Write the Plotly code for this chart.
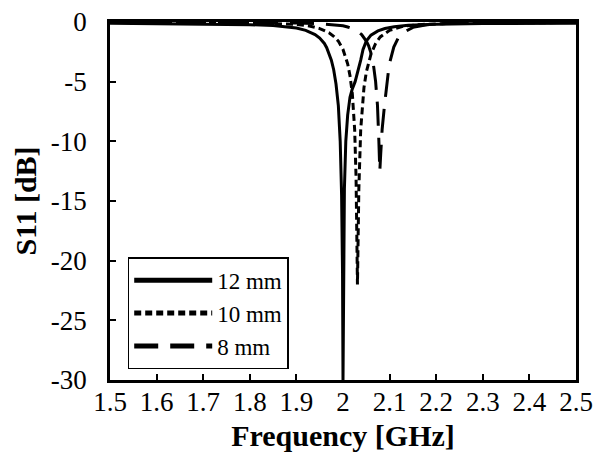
import plotly.graph_objects as go

# ---- data ----
freq_12 = [1.50, 1.60, 1.70, 1.75, 1.80, 1.85, 1.88, 1.90, 1.92, 1.94, 1.95, 1.96, 1.965, 1.97,
           1.975, 1.98, 1.985, 1.99, 1.994, 1.997, 1.999, 2.000, 2.001, 2.003, 2.006, 2.010,
           2.015, 2.020, 2.026, 2.032, 2.038, 2.043, 2.05, 2.06, 2.075, 2.09, 2.11, 2.14, 2.2,
           2.3, 2.4, 2.5]
s11_12 = [-0.10, -0.12, -0.15, -0.18, -0.22, -0.30, -0.40, -0.50, -0.70, -1.05, -1.35, -1.80,
          -2.15, -2.6, -3.2, -4.0, -5.2, -7.0, -10.0, -14.5, -21.0, -30.0, -22.0, -14.0, -10.0,
          -7.8, -6.3, -5.6, -5.0, -4.2, -3.2, -2.3, -1.6, -1.1, -0.75, -0.55, -0.40, -0.28,
          -0.18, -0.13, -0.11, -0.10]

freq_10 = [1.50, 1.70, 1.80, 1.90, 1.93, 1.95, 1.97, 1.98, 1.99, 2.00, 2.01, 2.015, 2.02, 2.025,
           2.028, 2.031, 2.034, 2.038, 2.045, 2.05, 2.06, 2.07, 2.08, 2.10, 2.13, 2.17, 2.25, 2.5]
s11_10 = [-0.04, -0.06, -0.10, -0.20, -0.35, -0.55, -0.90, -1.20, -1.60, -2.30, -3.50, -4.50,
          -6.0, -9.0, -13.0, -22.0, -14.0, -9.0, -5.5, -4.2, -2.7, -1.8, -1.25, -0.70, -0.35,
          -0.20, -0.10, -0.04]

freq_8 = [1.50, 1.70, 1.80, 1.90, 1.95, 1.98, 2.00, 2.01, 2.02, 2.03, 2.04, 2.05, 2.055, 2.06,
          2.065, 2.07, 2.074, 2.077, 2.079, 2.081, 2.084, 2.089, 2.094, 2.099, 2.109, 2.119,
          2.129, 2.15, 2.18, 2.23, 2.35, 2.5]
s11_8 = [-0.02, -0.03, -0.05, -0.08, -0.15, -0.22, -0.32, -0.42, -0.55, -0.75, -1.05, -1.6,
         -2.0, -2.6, -3.5, -5.0, -7.0, -10.0, -12.5, -11.0, -9.0, -7.0, -5.0, -3.6, -2.1, -1.3,
         -0.9, -0.45, -0.23, -0.10, -0.04, -0.02]

series_names = ["12 mm", "10 mm", "8 mm"]
x_ticks = [1.5, 1.6, 1.7, 1.8, 1.9, 2.0, 2.1, 2.2, 2.3, 2.4, 2.5]
x_ticklabels = ["1.5", "1.6", "1.7", "1.8", "1.9", "2", "2.1", "2.2", "2.3", "2.4", "2.5"]
y_ticks = [0, -5, -10, -15, -20, -25, -30]
y_ticklabels = ["0", "-5", "-10", "-15", "-20", "-25", "-30"]

FONT = "Liberation Serif"
TICK_SIZE = 27
TITLE_SIZE = 30

fig = go.Figure()
fig.add_trace(go.Scatter(x=freq_12, y=s11_12, mode="lines", name=series_names[0],
                         line=dict(color="black", width=3, dash="solid")))
fig.add_trace(go.Scatter(x=freq_10, y=s11_10, mode="lines", name=series_names[1],
                         line=dict(color="black", width=3, dash="7px,4px")))
fig.add_trace(go.Scatter(x=freq_8, y=s11_8, mode="lines", name=series_names[2],
                         line=dict(color="black", width=3, dash="24px,12px")))

fig.update_layout(
    width=594, height=457,
    margin=dict(l=110, r=18, t=22, b=77, autoexpand=False),
    paper_bgcolor="white", plot_bgcolor="white",
    font=dict(family=FONT, size=TICK_SIZE, color="black"),
    showlegend=True,
    legend=dict(x=0.038, y=0.03, xanchor="left", yanchor="bottom",
                bgcolor="white", bordercolor="black", borderwidth=1.5,
                font=dict(family=FONT, size=23, color="black"),
                itemwidth=78,
                tracegroupgap=0, itemsizing="constant"),
    xaxis=dict(range=[1.5, 2.5], tickmode="array", tickvals=x_ticks, ticktext=x_ticklabels,
               automargin=False,
               showline=True, linecolor="black", linewidth=2.5, mirror=True,
               ticks="inside", ticklen=6, tickwidth=2, tickcolor="black",
               showgrid=False, zeroline=False,
               tickfont=dict(family=FONT, size=TICK_SIZE, color="black"),
               ticklabelstandoff=-4,
               title=dict(text="<b>Frequency [GHz]</b>", standoff=9,
                          font=dict(family=FONT, size=TITLE_SIZE, color="black"))),
    yaxis=dict(range=[-30, 0], tickmode="array", tickvals=y_ticks, ticktext=y_ticklabels,
               automargin=False,
               showline=True, linecolor="black", linewidth=2.5, mirror=True,
               ticks="inside", ticklen=6, tickwidth=2, tickcolor="black",
               showgrid=False, zeroline=False,
               tickfont=dict(family=FONT, size=TICK_SIZE, color="black"),
               ticklabelstandoff=15,
               title=dict(text="<b>S11 [dB]</b>", standoff=6,
                          font=dict(family=FONT, size=TITLE_SIZE, color="black"))),
)

fig.write_html("out.html")
